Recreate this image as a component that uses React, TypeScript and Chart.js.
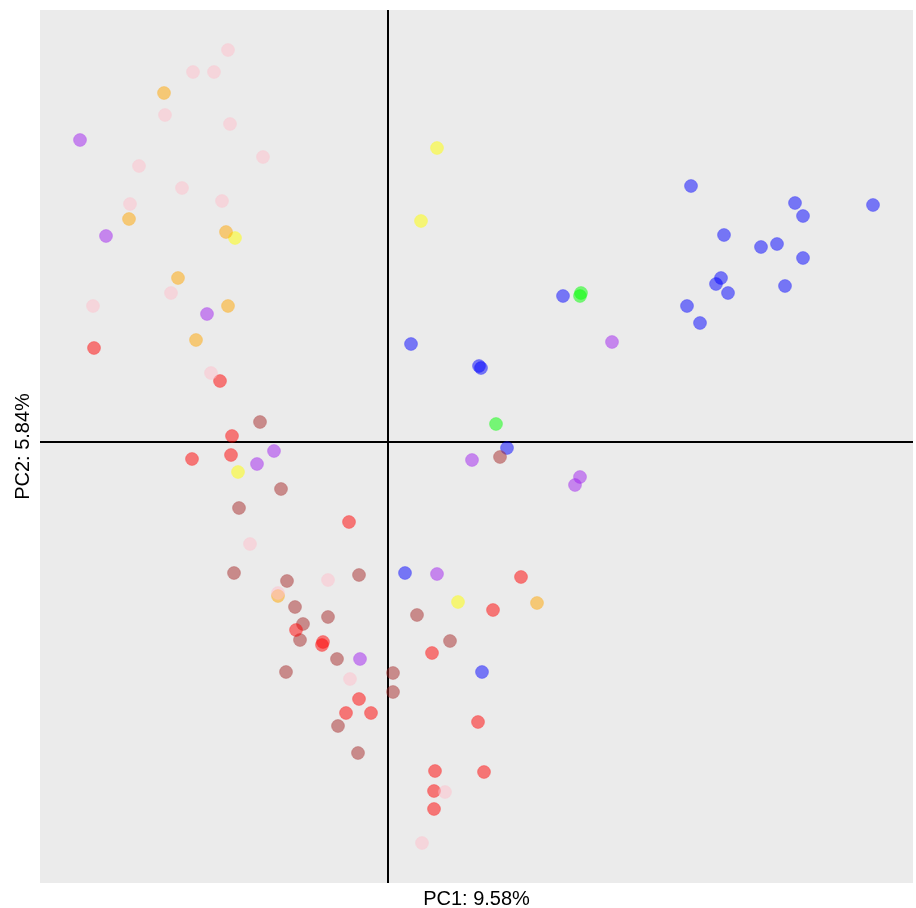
import React, { useEffect, useRef } from "react";
import { Chart, registerables } from "chart.js";

Chart.register(...registerables);

// PCA scores (PC1, PC2), grouped by sample colour
const pinkPC1 = [-160, -195, -174, -223, -158, -125, -249, -206, -258, -166, -217, -295, -177, -138, -60, -110, -38, 57, 34];
const pinkPC2 = [392, 370, 370, 327, 318, 285, 276, 254, 238, 241, 149, 136, 69, -102, -138, -151, -237, -350, -401];

const orangePC1 = [-224, -259, -162, -210, -160, -192, -110, 149];
const orangePC2 = [349, 223, 210, 164, 136, 102, -154, -161];

const purplePC1 = [-308, -282, -181, -114, -131, 224, 84, 192, 187, 49, -28];
const purplePC2 = [302, 206, 128, -9, -22, 100, -18, -35, -43, -132, -217];

const yellowPC1 = [-153, -150, 49, 33, 70];
const yellowPC2 = [204, -30, 294, 221, -160];

const redPC1 = [-294, -168, -156, -196, -157, -39, 133, 105, -92, -65, -66, 44, -29, -42, -17, 90, 47, 96, 46, 46];
const redPC2 = [94, 61, 6, -17, -13, -80, -135, -168, -188, -200, -203, -211, -257, -271, -271, -280, -329, -330, -349, -367];

const brownPC1 = [-128, -107, -149, -154, -101, -29, 112, -93, -60, -85, -88, -51, -102, 5, 5, 29, 62, -50, -30];
const brownPC2 = [20, -47, -66, -131, -139, -133, -15, -165, -175, -182, -198, -217, -230, -231, -250, -173, -199, -284, -311];

const bluePC1 = [23, 91, 93, 119, 17, 94, 175, 303, 407, 415, 485, 336, 373, 389, 415, 333, 328, 340, 397, 299, 312];
const bluePC2 = [98, 76, 74, -6, -131, -230, 146, 256, 239, 226, 237, 207, 195, 198, 184, 164, 158, 149, 156, 136, 119];

const greenPC1 = [193, 192, 108];
const greenPC2 = [149, 146, 18];

const groupNames = ["pink", "orange", "purple", "yellow", "red", "brown", "blue", "green"];
const groupRGB = ["255,192,203", "255,165,0", "160,32,240", "255,255,0", "255,0,0", "165,42,42", "0,0,255", "0,255,0"];
const groupX = [pinkPC1, orangePC1, purplePC1, yellowPC1, redPC1, brownPC1, bluePC1, greenPC1];
const groupY = [pinkPC2, orangePC2, purplePC2, yellowPC2, redPC2, brownPC2, bluePC2, greenPC2];

const xTitle = "PC1: 9.58%";
const yTitle = "PC2: 5.84%";
const xMin = -348;
const xMax = 525;
const yMin = -441;
const yMax = 432;

const panelBg = {
  id: "panelBg",
  beforeDraw(chart: any) {
    const { ctx, chartArea } = chart;
    if (!chartArea) return;
    ctx.save();
    ctx.fillStyle = "#EBEBEB";
    ctx.fillRect(chartArea.left, chartArea.top, chartArea.right - chartArea.left, chartArea.bottom - chartArea.top);
    ctx.restore();
  },
};

export default function App() {
  const ref = useRef<HTMLCanvasElement | null>(null);

  useEffect(() => {
    document.body.style.margin = "0";
    const canvas = ref.current;
    if (!canvas) return;

    const datasets = groupNames.map((name, g) => ({
      label: name,
      data: groupX[g].map((x, i) => ({ x, y: groupY[g][i] })),
      backgroundColor: `rgba(${groupRGB[g]},0.5)`,
      borderColor: `rgba(${groupRGB[g]},0.25)`,
      borderWidth: 1,
      pointRadius: 6.5,
      pointHoverRadius: 6.5,
    }));

    const zeroColor = (c: any) => (c.tick && c.tick.value === 0 ? "#000000" : "rgba(0,0,0,0)");
    const font = { family: "'Liberation Sans', Arial, sans-serif", size: 20, lineHeight: 0.85 };

    const chart = new Chart(canvas, {
      type: "scatter",
      data: { datasets },
      options: {
        animation: false,
        responsive: false,
        layout: { autoPadding: false, padding: { top: 10, right: 3, bottom: 0, left: 0 } },
        plugins: { legend: { display: false }, tooltip: { enabled: false }, title: { display: false } },
        scales: {
          x: {
            type: "linear",
            min: xMin,
            max: xMax,
            ticks: { display: false, stepSize: 100 },
            grid: { color: zeroColor, lineWidth: 2, drawTicks: false },
            border: { display: false },
            title: { display: true, text: xTitle, color: "#000", font, padding: { top: 8, bottom: 0 } },
          },
          y: {
            type: "linear",
            min: yMin,
            max: yMax,
            ticks: { display: false, stepSize: 100 },
            grid: { color: zeroColor, lineWidth: 2, drawTicks: false },
            border: { display: false },
            title: { display: true, text: yTitle, color: "#000", font, padding: { top: 15, bottom: 8 } },
          },
        },
      },
      plugins: [panelBg],
    });

    return () => chart.destroy();
  }, []);

  return (
    <div style={{ width: 916, height: 908 }}>
      <canvas ref={ref} width={916} height={908} style={{ display: "block", width: 916, height: 908 }} />
    </div>
  );
}
